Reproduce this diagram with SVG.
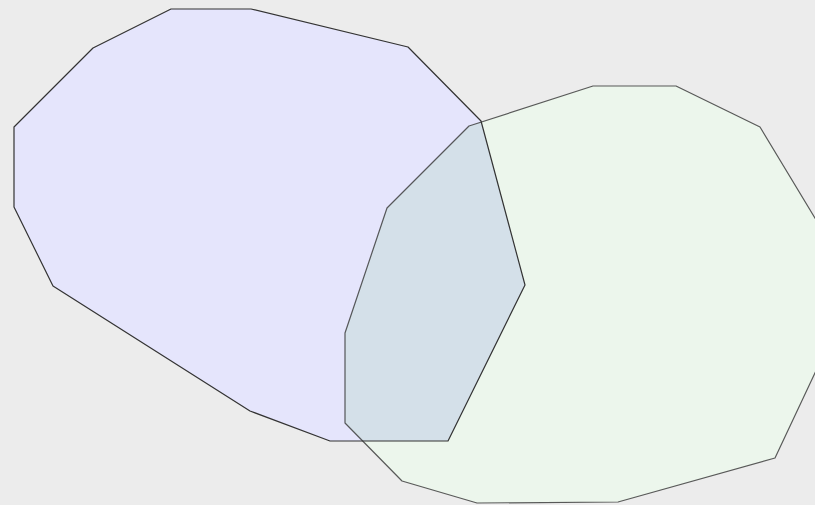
<svg xmlns="http://www.w3.org/2000/svg" width="815" height="505" viewBox="0 0 815 505">
<defs>
<style>
.edge{fill:none;stroke:#333;stroke-width:1.2;stroke-linejoin:round}
</style>
<clipPath id="gclip"><polygon points="593,86 676,86 760,127 830,243 830,341 775,458 618,502 477,503 402,481 345,423 345,333 387,208 469,126"/></clipPath>
</defs>
<rect width="815" height="505" fill="#ececec"/>
<g id="blue">
<polygon points="171,9 251,9 408,47 481,121 525,285 448,441 330,441 250,411 53,286 14,207 14,127 93,48" fill="#e5e5fc"/>
</g>
<g id="green">
<polygon points="593,86 676,86 760,127 830,243 830,341 775,458 618,502 477,503 402,481 345,423 345,333 387,208 469,126" fill="#ecf6ec"/>
</g>
<g id="overlap">
<polygon clip-path="url(#gclip)" points="171,9 251,9 408,47 481,121 525,285 448,441 330,441 250,411 53,286 14,207 14,127 93,48" fill="#d4e0e9"/>
</g>
<g id="outlines">
<polygon class="edge" points="171,9 251,9 408,47 481,121 525,285 448,441 330,441 250,411 53,286 14,207 14,127 93,48"/>
<polygon class="edge" points="593,86 676,86 760,127 830,243 830,341 775,458 618,502 477,503 402,481 345,423 345,333 387,208 469,126" stroke-opacity="0.8"/>
</g>
</svg>
